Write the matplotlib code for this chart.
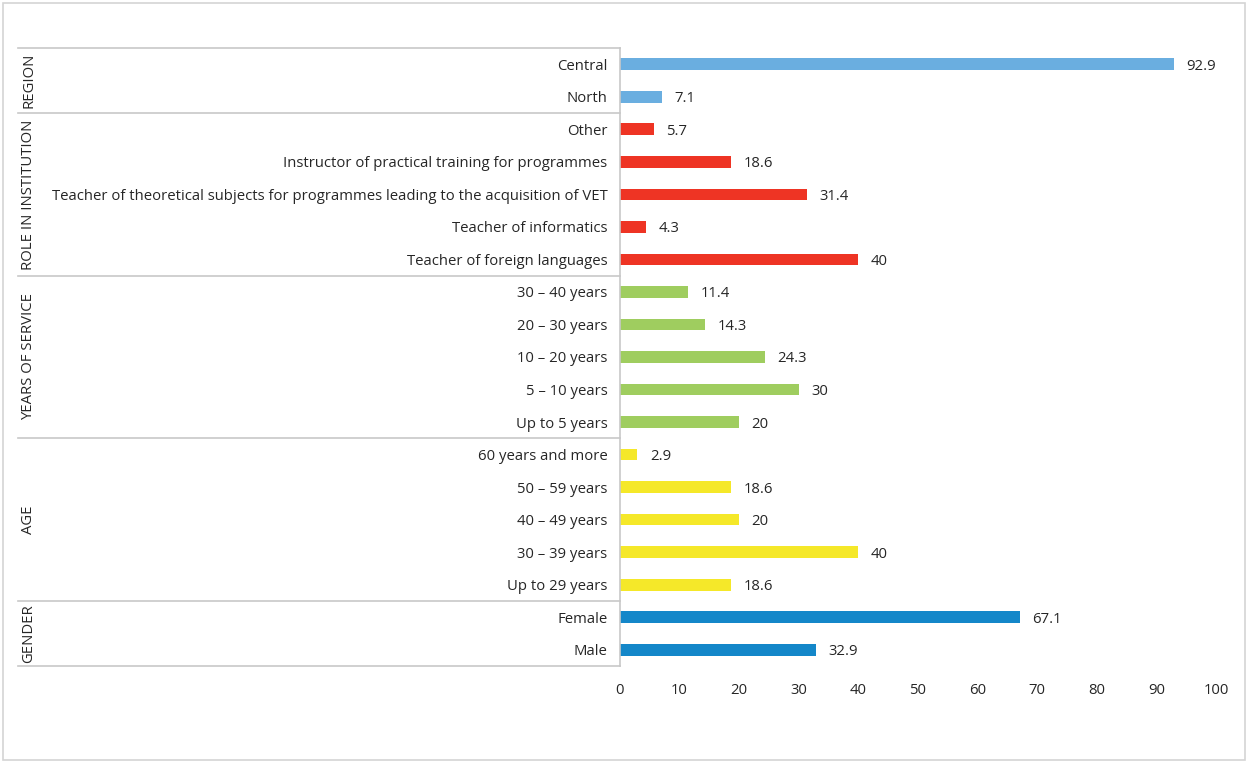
import matplotlib
matplotlib.use("Agg")
import matplotlib.pyplot as plt
from matplotlib.patches import Rectangle
from matplotlib.lines import Line2D
import matplotlib.transforms as mtransforms

plt.rcParams['font.family'] = ['Open Sans', 'DejaVu Sans']

# ---- data (top to bottom) ----
region_labels = ["Central", "North"]
region_values = [92.9, 7.1]
role_labels = ["Other",
               "Instructor of practical training for programmes",
               "Teacher of theoretical subjects for programmes leading to the acquisition of VET",
               "Teacher of informatics",
               "Teacher of foreign languages"]
role_values = [5.7, 18.6, 31.4, 4.3, 40]
years_labels = ["30 – 40 years", "20 – 30 years", "10 – 20 years", "5 – 10 years", "Up to 5 years"]
years_values = [11.4, 14.3, 24.3, 30, 20]
age_labels = ["60 years and more", "50 – 59 years", "40 – 49 years", "30 – 39 years", "Up to 29 years"]
age_values = [2.9, 18.6, 20, 40, 18.6]
gender_labels = ["Female", "Male"]
gender_values = [67.1, 32.9]

group_names = ["REGION", "ROLE IN INSTITUTION", "YEARS OF SERVICE", "AGE", "GENDER"]
group_labels = [region_labels, role_labels, years_labels, age_labels, gender_labels]
group_values = [region_values, role_values, years_values, age_values, gender_values]
group_colors = ["#6aaee0", "#ee3424", "#9fcd5f", "#f5e829", "#1487c9"]
x_ticks = [0, 10, 20, 30, 40, 50, 60, 70, 80, 90, 100]

W, H = 1248, 762
fig = plt.figure(figsize=(W / 100, H / 100), dpi=100)
fig.patch.set_facecolor("white")
fig.patches.append(Rectangle((3 / W, 2 / H), (W - 6) / W, (H - 5) / H,
                             transform=fig.transFigure, fill=False,
                             edgecolor="#d4d4d4", linewidth=1.2))

ax_left, ax_right, ax_top, ax_bottom = 620, 1216, 48, 666
ax = fig.add_axes([ax_left / W, 1 - ax_bottom / H, (ax_right - ax_left) / W, (ax_bottom - ax_top) / H])

text_color = "#262626"
fs = 10.75

labels, values, colors = [], [], []
for lbls, vals, c in zip(group_labels, group_values, group_colors):
    labels += lbls
    values += vals
    colors += [c] * len(lbls)

n = len(labels)
ypos = list(range(n))[::-1]  # top item at highest y
ax.barh(ypos, values, height=0.36, color=colors)
for y, v in zip(ypos, values):
    ax.annotate(f"{v:g}", xy=(v, y), xytext=(9, 0), textcoords="offset points",
                va="center_baseline", ha="left", fontsize=fs, color=text_color)

ax.set_xlim(0, 100)
ax.set_ylim(-0.5, n - 0.5)
ax.set_yticks(ypos)
ax.set_yticklabels(labels, fontsize=fs, color=text_color)
ax.set_xticks(x_ticks)
ax.set_xticklabels([str(t) for t in x_ticks], fontsize=fs, color=text_color)
ax.tick_params(axis="y", length=0, pad=9)
ax.tick_params(axis="x", length=0, pad=12)
for s in ["top", "right", "bottom"]:
    ax.spines[s].set_visible(False)
ax.spines["left"].set_color("#c8c8c8")
ax.spines["left"].set_linewidth(1.2)

# group separators and group names
trans = mtransforms.blended_transform_factory(fig.transFigure, ax.transData)
x0 = 18 / W
x1 = ax_left / W
idx = 0
bounds = [n - 0.5]
for lbls in group_labels:
    idx += len(lbls)
    bounds.append(n - 0.5 - idx)
for b in bounds:
    fig.add_artist(Line2D([x0, x1], [b, b], transform=trans, color="#c8c8c8",
                          linewidth=1.2, clip_on=False))
for name, top, bot in zip(group_names, bounds[:-1], bounds[1:]):
    fig.text(29 / W, (top + bot) / 2, name, transform=trans, rotation=90,
             ha="center", va="center", fontsize=fs, color=text_color)

fig.savefig("out.png", dpi=100)
